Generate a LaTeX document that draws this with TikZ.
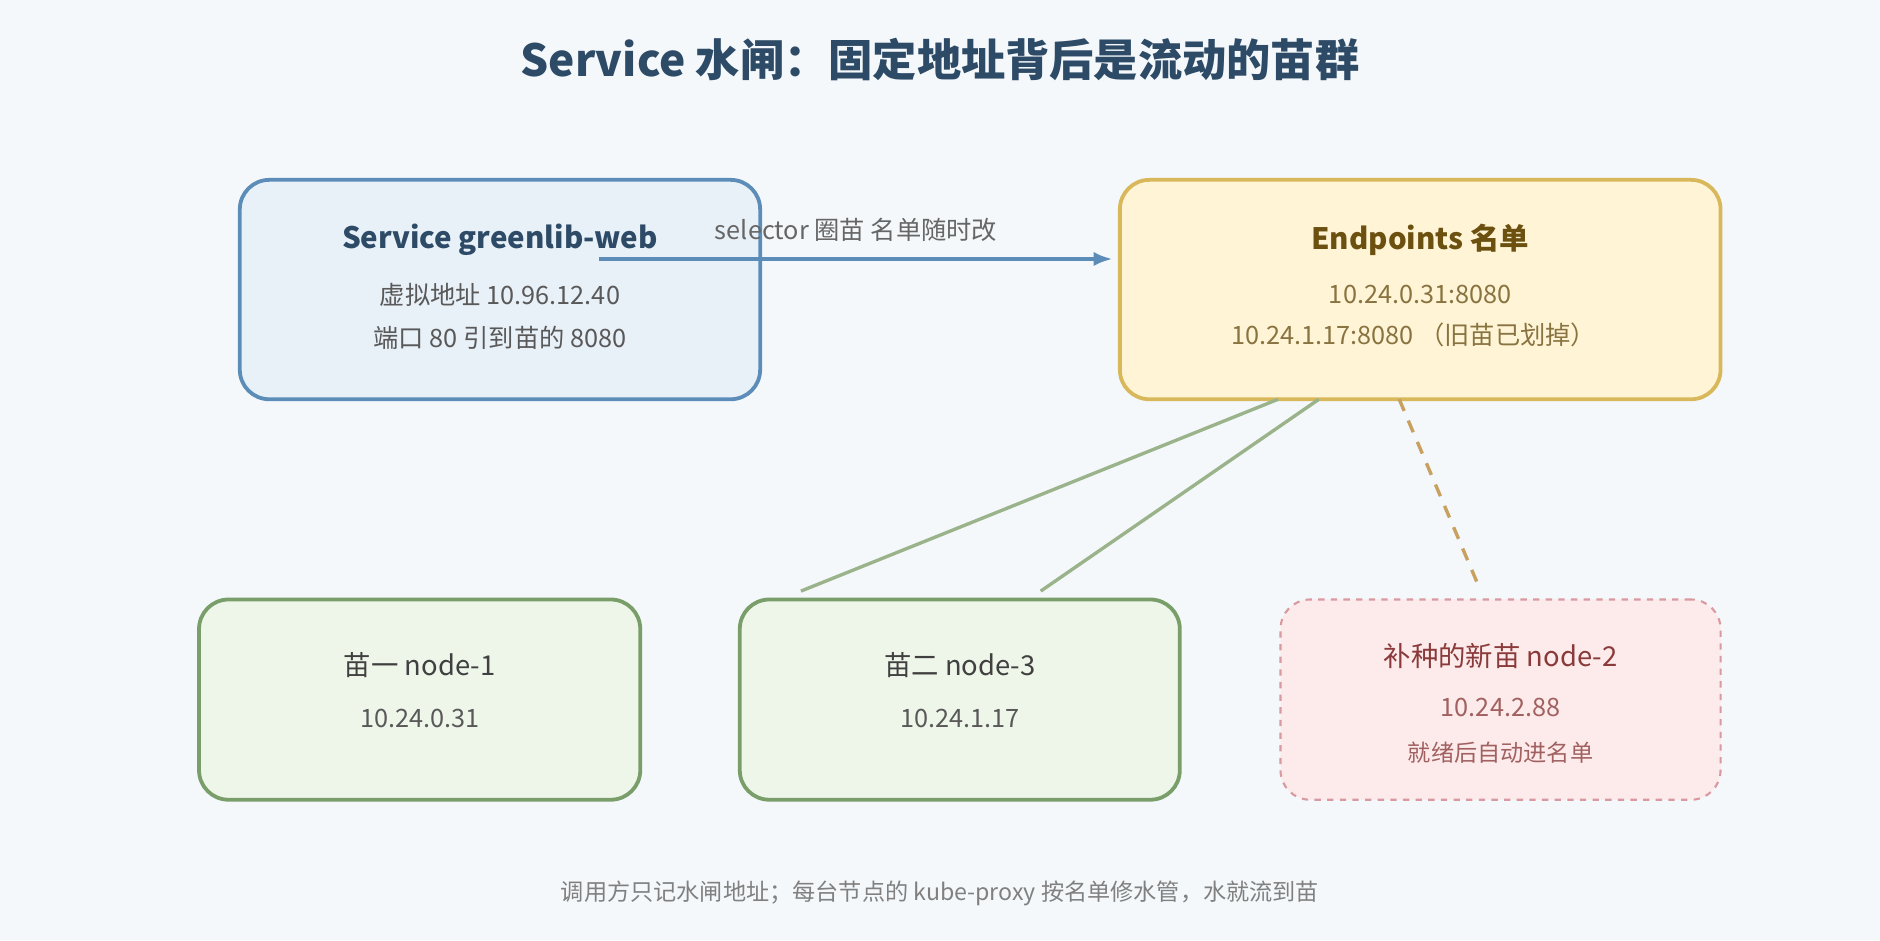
\documentclass[tikz,border=0pt]{standalone}
\usepackage{fontspec}
\setmainfont{Noto Sans CJK SC}
\usetikzlibrary{arrows.meta,positioning,calc}
\definecolor{bgc}{HTML}{F4F8FB}
\definecolor{titlec}{HTML}{2D4A66}
\definecolor{svcfill}{HTML}{E8F0F8}
\definecolor{svcline}{HTML}{5B8DB8}
\definecolor{epfill}{HTML}{FFF5D6}
\definecolor{epline}{HTML}{D8B85A}
\definecolor{eptext}{HTML}{6B5010}
\definecolor{podfill}{HTML}{EEF5E9}
\definecolor{podline}{HTML}{7A9E6A}
\definecolor{newfill}{HTML}{FDEAEA}
\definecolor{newline}{HTML}{D89AA0}
\definecolor{newtext}{HTML}{8A3A3A}
\definecolor{linkc}{HTML}{9AB38A}
\definecolor{dashc}{HTML}{C8A060}
\tikzset{
  box/.style={draw,rounded corners=14,line width=1.8pt},
  txt/.style={font=\fontsize{12}{14}\selectfont,text=black!65}
}
\begin{document}
\begin{tikzpicture}[x=0.02cm,y=-0.02cm]
    \fill[bgc] (0,0) rectangle (1568,784);
    % title
    \node[font=\fontsize{21}{25}\selectfont\bfseries,text=titlec] (title) at (784,50) {Service 水闸：固定地址背后是流动的苗群};
    % boxes
    \node[box,draw=svcline,fill=svcfill,minimum width=434*0.02cm,minimum height=183*0.02cm] (svc) at (417,241.5) {};
    \node[box,draw=epline,fill=epfill,minimum width=501*0.02cm,minimum height=183*0.02cm] (ep) at (1184.5,241.5) {};
    \node[box,draw=podline,fill=podfill,minimum width=368*0.02cm,minimum height=167*0.02cm] (pod1) at (350,583.5) {};
    \node[box,draw=podline,fill=podfill,minimum width=367*0.02cm,minimum height=167*0.02cm] (pod3) at (800.5,583.5) {};
    \node[box,line width=1pt,dashed,draw=newline,fill=newfill,minimum width=367*0.02cm,minimum height=167*0.02cm] (pod2) at (1251.5,583.5) {};
    % texts
    \node[font=\fontsize{14}{16}\selectfont\bfseries,text=titlec] (svct) at (417,200) {Service greenlib-web};
    \node[txt] at (417,246) {虚拟地址 10.96.12.40};
    \node[txt] at (417,282) {端口 80 引到苗的 8080};
    \node[font=\fontsize{14}{16}\selectfont\bfseries,text=eptext] (ept) at (1184.5,200) {Endpoints 名单};
    \node[txt,text=eptext!80] at (1184.5,246) {10.24.0.31:8080};
    \node[txt,text=eptext!80] at (1179,279) {10.24.1.17:8080 （旧苗已划掉）};
    \node[txt,text=black!75,font=\fontsize{13}{15}\selectfont] at (350,555) {苗一 node-1};
    \node[txt] at (350,599) {10.24.0.31};
    \node[txt,text=black!75,font=\fontsize{13}{15}\selectfont] at (800.5,555) {苗二 node-3};
    \node[txt] at (800.5,599) {10.24.1.17};
    \node[txt,text=newtext,font=\fontsize{13}{15}\selectfont] at (1251.5,547) {补种的新苗 node-2};
    \node[txt,text=newtext!80] at (1251.5,590) {10.24.2.88};
    \node[txt,text=newtext!80,font=\fontsize{11}{13}\selectfont] at (1251.5,628) {就绪后自动进名单};
    % connectors
    \coordinate (sfrom) at (500,216);
    \coordinate (sto) at (928,216);
    \draw[-{Latex[length=9pt]},svcline,line width=2.2pt] (sfrom) -- node[above=4pt,txt,text=black!60] {selector 圈苗 名单随时改} (sto);
    \coordinate (a1) at (1066,333); \coordinate (b1) at (668,493);
    \coordinate (a2) at (1100,333); \coordinate (b2) at (868,493);
    \coordinate (a3) at (1167,333); \coordinate (b3) at (1235,493);
    \draw[linkc,line width=1.6pt] (a1) -- (b1);
    \draw[linkc,line width=1.6pt] (a2) -- (b2);
    \draw[dashc,line width=1.6pt,dash pattern=on 6pt off 5pt] (a3) -- (b3);
    % footer
    \node[font=\fontsize{11}{13}\selectfont,text=black!50] (foot) at (784,745) {调用方只记水闸地址；每台节点的 kube-proxy 按名单修水管，水就流到苗};
\end{tikzpicture}
\end{document}
